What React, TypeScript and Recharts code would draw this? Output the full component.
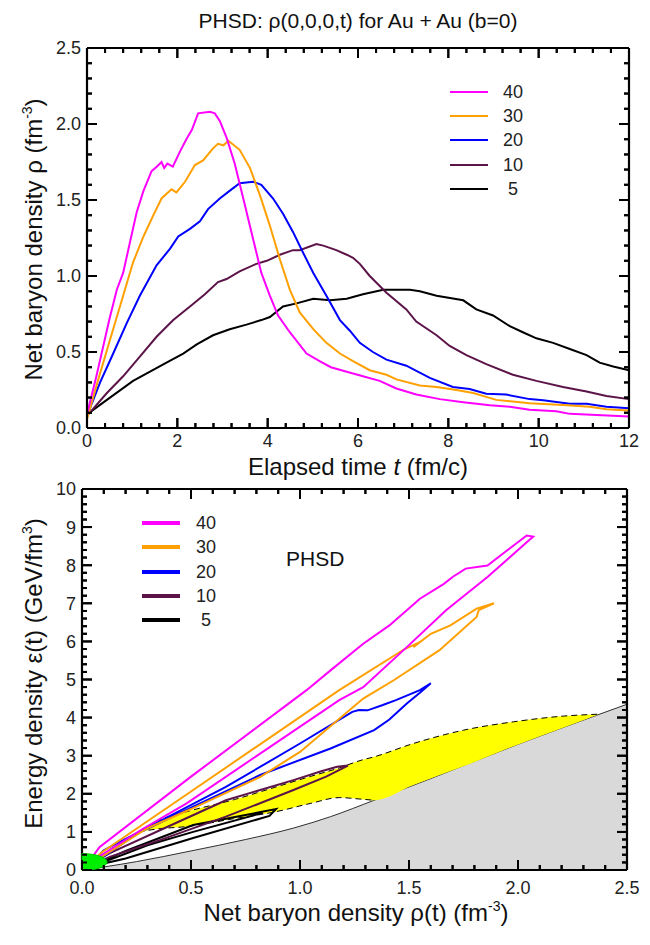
import React from 'react';
import { ComposedChart, Line, Area, XAxis, YAxis, Legend, ReferenceLine, ReferenceDot } from 'recharts';

const FONT = '"Liberation Sans", Arial, Helvetica, sans-serif';

// ---------- series (shared) ----------
const seriesNames = ['40', '30', '20', '10', '5'];
const seriesColors = ['#ff00ff', '#ffa000', '#0000ff', '#5c1448', '#000000'];

// ---------- top chart: net baryon density rho vs elapsed time t ----------
const rhoT40: [number, number][] = [
  [0, 0.09], [0.2, 0.33], [0.5, 0.72], [0.66, 0.91], [0.8, 1.02], [0.95, 1.22], [1.1, 1.42], [1.25, 1.56],
  [1.43, 1.69], [1.55, 1.72], [1.65, 1.75], [1.71, 1.71], [1.78, 1.74], [1.9, 1.72], [2.06, 1.82], [2.2, 1.9],
  [2.32, 1.96], [2.46, 2.07], [2.72, 2.08], [2.83, 2.07], [2.94, 2.02], [3.09, 1.91], [3.27, 1.74], [3.46, 1.51],
  [3.68, 1.24], [3.86, 1.02], [4.05, 0.87], [4.23, 0.74], [4.49, 0.63], [4.86, 0.49], [5.15, 0.44], [5.4, 0.4],
  [5.75, 0.37], [6.11, 0.34], [6.48, 0.31], [6.85, 0.26], [7.29, 0.22], [7.81, 0.19], [8.33, 0.17], [8.92, 0.15],
  [9.36, 0.14], [9.8, 0.12], [10.39, 0.11], [10.69, 0.093], [11.28, 0.086], [12, 0.075],
];
const rhoT30: [number, number][] = [
  [0, 0.06], [0.29, 0.36], [0.51, 0.58], [0.8, 0.87], [1.02, 1.09], [1.25, 1.26], [1.47, 1.4], [1.65, 1.51],
  [1.87, 1.57], [1.98, 1.55], [2.17, 1.62], [2.39, 1.73], [2.57, 1.76], [2.79, 1.84], [2.9, 1.87], [3.02, 1.86],
  [3.13, 1.89], [3.38, 1.83], [3.61, 1.71], [3.83, 1.53], [4.05, 1.33], [4.27, 1.11], [4.49, 0.91], [4.71, 0.76],
  [5.01, 0.65], [5.3, 0.56], [5.6, 0.49], [5.89, 0.44], [6.26, 0.38], [6.63, 0.35], [6.85, 0.32], [7.37, 0.28],
  [7.74, 0.27], [8.18, 0.25], [8.55, 0.23], [9.06, 0.185], [9.8, 0.163], [10.54, 0.152], [11.13, 0.14],
  [11.5, 0.124], [12, 0.115],
];
const rhoT20: [number, number][] = [
  [0, 0.08], [0.29, 0.3], [0.58, 0.49], [0.88, 0.69], [1.17, 0.87], [1.54, 1.07], [1.84, 1.18], [2.02, 1.26],
  [2.28, 1.31], [2.5, 1.36], [2.68, 1.44], [2.94, 1.51], [3.2, 1.57], [3.38, 1.61], [3.68, 1.62], [3.86, 1.6],
  [4.12, 1.51], [4.34, 1.41], [4.56, 1.29], [4.79, 1.15], [5.01, 1.02], [5.3, 0.87], [5.6, 0.71], [5.82, 0.64],
  [6.04, 0.56], [6.33, 0.5], [6.63, 0.45], [7.07, 0.41], [7.59, 0.33], [8.1, 0.27], [8.47, 0.256], [8.84, 0.225],
  [9.28, 0.22], [9.8, 0.19], [10.1, 0.183], [10.69, 0.16], [11.06, 0.16], [11.5, 0.14], [12, 0.13],
];
const rhoT10: [number, number][] = [
  [0, 0.08], [0.44, 0.23], [0.8, 0.34], [1.17, 0.47], [1.54, 0.6], [1.91, 0.71], [2.28, 0.8], [2.61, 0.88],
  [2.9, 0.96], [3.09, 0.98], [3.38, 1.03], [3.75, 1.08], [3.98, 1.1], [4.27, 1.14], [4.56, 1.17], [4.71, 1.17],
  [5.08, 1.21], [5.23, 1.2], [5.52, 1.17], [5.75, 1.14], [5.89, 1.12], [6.04, 1.08], [6.26, 1.0], [6.63, 0.89],
  [7.07, 0.78], [7.29, 0.7], [7.74, 0.61], [8.03, 0.54], [8.4, 0.48], [8.84, 0.42], [9.43, 0.35], [9.95, 0.31],
  [10.54, 0.27], [11.06, 0.24], [11.5, 0.21], [12, 0.19],
];
const rhoT5: [number, number][] = [
  [0, 0.09], [0.44, 0.185], [1.02, 0.31], [1.76, 0.43], [2.13, 0.49], [2.43, 0.55], [2.79, 0.61], [3.16, 0.65],
  [3.53, 0.68], [3.86, 0.71], [4.05, 0.73], [4.34, 0.8], [4.64, 0.82], [5.01, 0.85], [5.38, 0.84], [5.75, 0.85],
  [6.11, 0.88], [6.56, 0.91], [7.15, 0.91], [7.37, 0.9], [7.74, 0.87], [8.33, 0.84], [8.62, 0.78], [8.99, 0.74],
  [9.36, 0.67], [9.65, 0.63], [9.95, 0.59], [10.32, 0.56], [10.69, 0.52], [11.06, 0.48], [11.35, 0.43],
  [11.65, 0.405], [12, 0.38],
];
const timeMajorTicks = [0, 2, 4, 6, 8, 10, 12];
const rhoMajorTicks = [0, 0.5, 1.0, 1.5, 2.0, 2.5];

// ---------- bottom chart: energy density eps vs net baryon density rho ----------
const epsRho40: [number, number][] = [
  [0.03, 0.2], [0.08, 0.6], [0.5, 2.45], [1.03, 4.72], [1.14, 5.24], [1.29, 5.94], [1.41, 6.42], [1.55, 7.12],
  [1.66, 7.51], [1.7, 7.69], [1.76, 7.91], [1.86, 7.99], [1.93, 8.3], [2.04, 8.78], [2.07, 8.75], [2.04, 8.6],
  [1.86, 7.69], [1.67, 6.82], [1.49, 5.85], [1.29, 4.8], [1.18, 4.46], [0.48, 1.75], [0.27, 1.05], [0.05, 0.25],
];
const epsRho30: [number, number][] = [
  [0.04, 0.2], [0.09, 0.46], [0.5, 2.06], [1.18, 4.72], [1.48, 5.8], [1.55, 5.98], [1.52, 5.85], [1.6, 6.2],
  [1.69, 6.42], [1.81, 6.86], [1.89, 7.0], [1.82, 6.82], [1.81, 6.64], [1.64, 5.77], [1.43, 4.98], [1.29, 4.5],
  [1.0, 3.1], [0.82, 2.45], [0.5, 1.6], [0.3, 1.1], [0.05, 0.2],
];
const epsRho20: [number, number][] = [
  [0.05, 0.2], [0.1, 0.52], [0.66, 2.18], [1.0, 3.32], [1.24, 4.15], [1.27, 4.2], [1.31, 4.19], [1.38, 4.33],
  [1.44, 4.46], [1.55, 4.72], [1.6, 4.9], [1.55, 4.65], [1.49, 4.37], [1.41, 3.95], [1.34, 3.67], [1.14, 3.19],
  [0.82, 2.5], [0.51, 1.66], [0.25, 0.95], [0.06, 0.2],
];
const epsRho10: [number, number][] = [
  [0.05, 0.2], [0.13, 0.45], [0.36, 1.05], [0.66, 1.83], [0.97, 2.36], [1.09, 2.58], [1.17, 2.71], [1.22, 2.74],
  [1.12, 2.45], [0.97, 2.1], [0.66, 1.4], [0.36, 0.79], [0.13, 0.35], [0.05, 0.15],
];
const epsRho5: [number, number][] = [
  [0.04, 0.1], [0.2, 0.5], [0.51, 1.18], [0.89, 1.6], [0.86, 1.42], [0.51, 0.84], [0.2, 0.3], [0.06, 0.12],
  [0.3, 0.65], [0.51, 1.0], [0.83, 1.5],
];
// hadronic boundary (grey region below)
const boundaryRho = [0, 0.1, 0.25, 0.5, 0.75, 0.97, 1.14, 1.34, 1.6, 2.0, 2.36, 2.5];
const boundaryEps = [0, 0.08, 0.22, 0.5, 0.8, 1.1, 1.4, 1.83, 2.4, 3.3, 4.06, 4.35];
// mixed-phase band (yellow)
const mixedRho = [0.26, 0.35, 0.48, 0.7, 0.89, 1.05, 1.18, 1.28, 1.34, 1.52, 1.75, 1.98, 2.21, 2.37];
const mixedHi = [1.0, 1.3, 1.53, 1.85, 2.18, 2.46, 2.68, 2.88, 2.97, 3.32, 3.67, 3.89, 4.04, 4.09];
const mixedLo = [1.0, 1.08, 1.14, 1.35, 1.53, 1.75, 1.9, 1.86, 1.83, 2.23, 2.72, 3.25, 3.74, 4.09];
const mixedLoDashedCount = 9;
// green initial region: centre and half-extents (rho, eps)
const blobCenter = { rho: 0, eps: 0.21 };
const blobHalf = { rho: 0.115, eps: 0.22 };
const rhoAxisMajorTicks = [0, 0.5, 1.0, 1.5, 2.0, 2.5];
const epsMajorTicks = [0, 1, 2, 3, 4, 5, 6, 7, 8, 9, 10];

// ---------- helpers ----------
const steps = (a: number, b: number, s: number) =>
  Array.from({ length: Math.round((b - a) / s) + 1 }, (_, i) => +(a + i * s).toFixed(4));
const pairs = (arr: [number, number][], xk: string, yk: string) => arr.map(([a, b]) => ({ [xk]: a, [yk]: b }));
const isIn = (list: number[], v: number) => list.some((m) => Math.abs(m - v) < 1e-6);

const W = 650;
const AX = 1;
const H1 = 460;
const P1 = { top: 48, bottom: 428, left: 87, right: 629 };
const M1 = { top: P1.top, right: W - P1.right, bottom: H1 - P1.bottom - AX, left: P1.left - AX };
const H2 = 485;
const P2 = { top: 29, bottom: 410, left: 82, right: 627 };
const M2 = { top: P2.top, right: W - P2.right, bottom: H2 - P2.bottom - AX, left: P2.left - AX };

const TICK_FS = 18;
const TW = 2;
const MAJ = 10; // px
const MIN = 5; // px

type Box = typeof P1;

// x-axis tick: inward marks at bottom and top of the frame, label for majors
function makeXTick(plot: Box, majors: number[], fmt: (v: number) => string, labelY: number) {
  return (p: any) => {
    const v = p.payload.value;
    const major = isIn(majors, v);
    const len = major ? MAJ : MIN;
    const x = Number(p.x);
    const d = `M${x},${plot.bottom}V${plot.bottom - len}M${x},${plot.top}V${plot.top + len}`;
    return (
      <g>
        {p.index === 0 && <path d={`M${plot.left},${plot.top}H${plot.right}`} stroke="#000" strokeWidth={2.2} fill="none" />}
        <path d={d} stroke="#000" strokeWidth={TW} fill="none" />
        {major && (
          <text x={x} y={labelY} textAnchor="middle" fontSize={TICK_FS} fontFamily={FONT} fill="#222">
            {fmt(v)}
          </text>
        )}
      </g>
    );
  };
}
// y-axis tick: inward marks at left and right of the frame, label for majors
function makeYTick(plot: Box, majors: number[], fmt: (v: number) => string, labelX: number) {
  return (p: any) => {
    const v = p.payload.value;
    const major = isIn(majors, v);
    const len = major ? MAJ : MIN;
    const y = Number(p.y);
    const d = `M${plot.left},${y}H${plot.left + len}M${plot.right},${y}H${plot.right - len}`;
    return (
      <g>
        {p.index === 0 && <path d={`M${plot.right},${plot.top}V${plot.bottom}`} stroke="#000" strokeWidth={2.2} fill="none" />}
        <path d={d} stroke="#000" strokeWidth={TW} fill="none" />
        {major && (
          <text x={labelX} y={y} dy="0.36em" textAnchor="end" fontSize={TICK_FS} fontFamily={FONT} fill="#222">
            {fmt(v)}
          </text>
        )}
      </g>
    );
  };
}

// the same inward marks as reference segments through the chart scales
function frameTicks(
  prefix: string, xTicks: number[], yTicks: number[], xMaj: number[], yMaj: number[],
  xDom: [number, number], yDom: [number, number], plot: Box,
) {
  const ppx = (plot.right - plot.left) / (xDom[1] - xDom[0]);
  const ppy = (plot.bottom - plot.top) / (yDom[1] - yDom[0]);
  const out: React.ReactElement[] = [];
  xTicks.forEach((v, i) => {
    const dy = (isIn(xMaj, v) ? MAJ : MIN) / ppy;
    out.push(<ReferenceLine key={`${prefix}xb${i}`} segment={[{ x: v, y: yDom[0] }, { x: v, y: yDom[0] + dy }]} stroke="#000" strokeWidth={TW} ifOverflow="visible" />);
    out.push(<ReferenceLine key={`${prefix}xt${i}`} segment={[{ x: v, y: yDom[1] }, { x: v, y: yDom[1] - dy }]} stroke="#000" strokeWidth={TW} ifOverflow="visible" />);
  });
  yTicks.forEach((v, i) => {
    const dx = (isIn(yMaj, v) ? MAJ : MIN) / ppx;
    out.push(<ReferenceLine key={`${prefix}yl${i}`} segment={[{ x: xDom[0], y: v }, { x: xDom[0] + dx, y: v }]} stroke="#000" strokeWidth={TW} ifOverflow="visible" />);
    out.push(<ReferenceLine key={`${prefix}yr${i}`} segment={[{ x: xDom[1], y: v }, { x: xDom[1] - dx, y: v }]} stroke="#000" strokeWidth={TW} ifOverflow="visible" />);
  });
  return out;
}

const LegendBox = ({ rowH, lineW, gap, thick, fs }: { rowH: number; lineW: number; gap: number; thick: number; fs: number }) => (
  <div style={{ fontFamily: FONT, fontSize: fs, color: '#222' }}>
    {seriesNames.map((n, i) => (
      <div key={n} style={{ display: 'flex', alignItems: 'center', height: rowH }}>
        <svg width={lineW} height={8} style={{ display: 'block' }}>
          <line x1={0} x2={lineW} y1={4} y2={4} stroke={seriesColors[i]} strokeWidth={thick} />
        </svg>
        <span style={{ marginLeft: gap, paddingLeft: n.length === 1 ? 5 : 0, lineHeight: `${rowH}px` }}>{n}</span>
      </div>
    ))}
  </div>
);

const topSeries = [rhoT40, rhoT30, rhoT20, rhoT10, rhoT5];
const botSeries = [epsRho40, epsRho30, epsRho20, epsRho10, epsRho5];
const axisLineStyle = { stroke: '#000', strokeWidth: 2.2 };

export default function App() {
  const xTicks1 = steps(0, 12, 0.4);
  const yTicks1 = steps(0, 2.5, 0.1);
  const xTicks2 = steps(0, 2.5, 0.1);
  const yTicks2 = steps(0, 10, 0.2);

  const boundaryData = boundaryRho.map((r, i) => ({ r, e: boundaryEps[i] }));
  const mixedBand = mixedRho.map((r, i) => ({ r, band: [mixedLo[i], mixedHi[i]] }));
  const mixedUpper = mixedRho.map((r, i) => ({ r, e: mixedHi[i] }));
  const mixedLower = mixedRho.slice(0, mixedLoDashedCount).map((r, i) => ({ r, e: mixedLo[i] }));

  const ppx2 = (P2.right - P2.left) / 2.5;
  const ppy2 = (P2.bottom - P2.top) / 10;
  const blobShape = (p: any) => {
    const rx = blobHalf.rho * ppx2;
    const ry = blobHalf.eps * ppy2;
    const { cx, cy } = p;
    return (
      <path d={`M${cx},${cy - ry}A${rx},${ry} 0 0 1 ${cx},${cy + ry}Z`} fill="#00ee00" stroke="#00c800" strokeWidth={1} />
    );
  };

  const titleStyle: React.CSSProperties = { position: 'absolute', fontFamily: FONT, color: '#111', whiteSpace: 'nowrap' };
  const supStyle: React.CSSProperties = { fontSize: 14, position: 'relative', top: -10 };

  return (
    <div style={{ position: 'relative', width: W, height: 945, margin: -8, background: '#fff' }}>
      <div style={{ position: 'absolute', left: 0, top: 0, width: 6, height: 945, background: '#e9e9ec' }} />
      {/* top chart */}
      <div style={{ position: 'absolute', left: 0, top: 0 }}>
        <ComposedChart width={W} height={H1} margin={M1}>
          {topSeries.map((s, i) => (
            <Line
              key={seriesNames[i]} data={pairs(s, 't', 'v')} dataKey="v" name={seriesNames[i]} type="linear"
              stroke={seriesColors[i]} strokeWidth={2} dot={false} activeDot={false} isAnimationActive={false}
            />
          )).reverse()}
          <XAxis
            type="number" dataKey="t" domain={[0, 12]} ticks={xTicks1} interval={0}
            height={AX} tickLine={false} axisLine={axisLineStyle} tickSize={0} tickMargin={0}
            tick={makeXTick(P1, timeMajorTicks, (v) => String(v), 447)}
          />
          <YAxis
            type="number" domain={[0, 2.5]} ticks={yTicks1} interval={0}
            width={AX} tickLine={false} axisLine={axisLineStyle} tickSize={0} tickMargin={0}
            tick={makeYTick(P1, rhoMajorTicks, (v) => v.toFixed(1), 81)}
          />
          {frameTicks('a', xTicks1, yTicks1, timeMajorTicks, rhoMajorTicks, [0, 12], [0, 2.5], P1)}
          <Legend
            layout="vertical" align="center" verticalAlign="middle"
            wrapperStyle={{ left: 450, top: 80, width: 120 }}
            content={() => <LegendBox rowH={24.2} lineW={38} gap={15} thick={2} fs={18} />}
          />
        </ComposedChart>
      </div>
      {/* bottom chart */}
      <div style={{ position: 'absolute', left: 0, top: H1 }}>
        <ComposedChart width={W} height={H2} margin={M2}>
          <Area
            data={boundaryData} dataKey="e" type="monotone" baseValue={0} fill="#d9d9d9" fillOpacity={1}
            stroke="#000" strokeWidth={0.8} dot={false} activeDot={false} isAnimationActive={false}
          />
          <Area
            data={mixedBand} dataKey="band" type="monotone" fill="#ffff00" fillOpacity={1}
            stroke="none" dot={false} activeDot={false} isAnimationActive={false}
          />
          <Line
            data={mixedUpper} dataKey="e" type="monotone" stroke="#000" strokeWidth={1} strokeDasharray="6 4"
            dot={false} activeDot={false} isAnimationActive={false}
          />
          <Line
            data={mixedLower} dataKey="e" type="monotone" stroke="#000" strokeWidth={1} strokeDasharray="6 4"
            dot={false} activeDot={false} isAnimationActive={false}
          />
          {botSeries.map((s, i) => (
            <Line
              key={seriesNames[i]} data={pairs(s, 'r', 'e')} dataKey="e" name={seriesNames[i]} type="linear"
              stroke={seriesColors[i]} strokeWidth={2} dot={false} activeDot={false} isAnimationActive={false}
            />
          )).reverse()}
          <XAxis
            type="number" dataKey="r" domain={[0, 2.5]} ticks={xTicks2} interval={0}
            height={AX} tickLine={false} axisLine={axisLineStyle} tickSize={0} tickMargin={0}
            tick={makeXTick(P2, rhoAxisMajorTicks, (v) => v.toFixed(1), 434)}
          />
          <YAxis
            type="number" domain={[0, 10]} ticks={yTicks2} interval={0}
            width={AX} tickLine={false} axisLine={axisLineStyle} tickSize={0} tickMargin={0}
            tick={makeYTick(P2, epsMajorTicks, (v) => String(v), 76)}
          />
          <ReferenceDot x={blobCenter.rho} y={blobCenter.eps} r={1} ifOverflow="visible" shape={blobShape} />
          {frameTicks('b', xTicks2, yTicks2, rhoAxisMajorTicks, epsMajorTicks, [0, 2.5], [0, 10], P2)}
          <Legend
            layout="vertical" align="center" verticalAlign="middle"
            wrapperStyle={{ left: 142, top: 51, width: 120 }}
            content={() => <LegendBox rowH={24.3} lineW={38} gap={16} thick={4} fs={18} />}
          />
        </ComposedChart>
      </div>
      {/* texts */}
      <div style={{ ...titleStyle, left: 158, width: 400, top: 10, fontSize: 21, lineHeight: '21px', textAlign: 'center' }}>
        PHSD: ρ(0,0,0,t) for Au + Au (b=0)
      </div>
      <div style={{ ...titleStyle, left: 158, width: 400, top: 455, fontSize: 24, lineHeight: '24px', textAlign: 'center' }}>
        Elapsed time <i>t</i> (fm/c)
      </div>
      <div
        style={{
          ...titleStyle, left: 35 - 200, width: 400, top: 238 - 12, fontSize: 24, lineHeight: '24px', textAlign: 'center',
          transform: 'rotate(-90deg)',
        }}
      >
        Net baryon density ρ (fm<span style={supStyle}>-3</span>)
      </div>
      <div style={{ ...titleStyle, left: 286, top: 548, fontSize: 21, lineHeight: '21px' }}>PHSD</div>
      <div style={{ ...titleStyle, left: 156, width: 400, top: 901, fontSize: 24, lineHeight: '24px', textAlign: 'center' }}>
        Net baryon density ρ(t) (fm<span style={supStyle}>-3</span>)
      </div>
      <div
        style={{
          ...titleStyle, left: 35 - 200, width: 400, top: 672 - 12, fontSize: 24, lineHeight: '24px', textAlign: 'center',
          transform: 'rotate(-90deg)',
        }}
      >
        Energy density ε(t) (GeV/fm<span style={supStyle}>3</span>)
      </div>
    </div>
  );
}
